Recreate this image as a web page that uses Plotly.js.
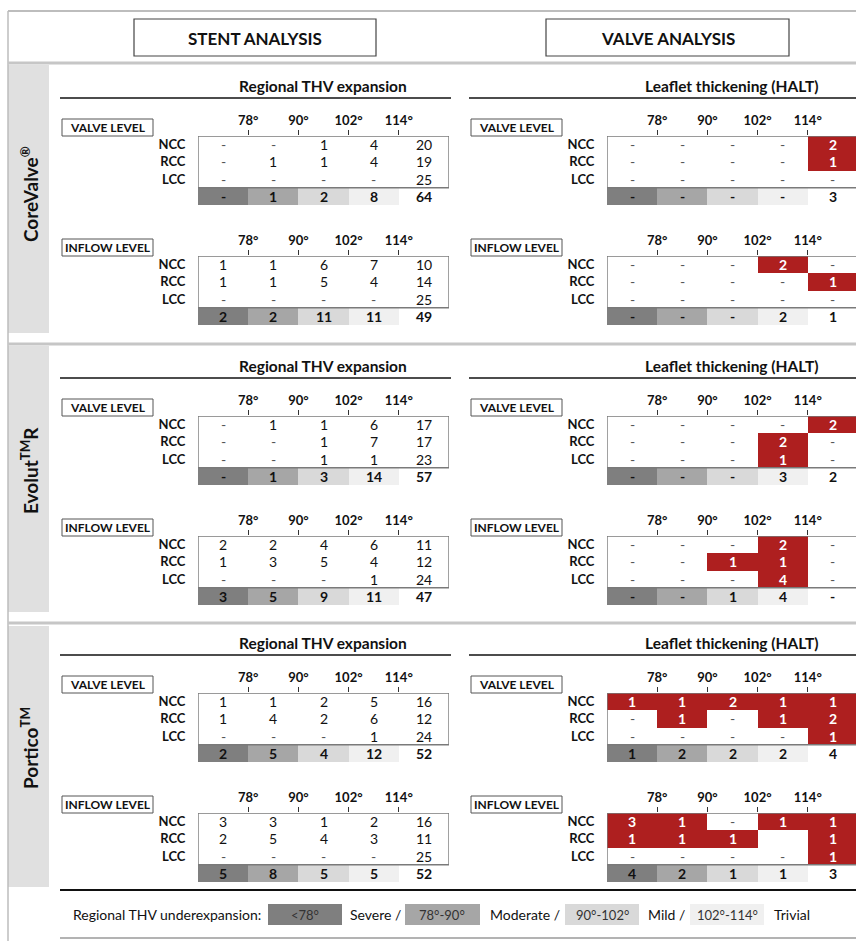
<!DOCTYPE html>
<html><head><meta charset="utf-8">
<script src="https://cdn.plot.ly/plotly-3.0.1.min.js"></script>
<style>html,body{margin:0;padding:0;background:#fff;}#chart{width:856px;height:941px;}</style>
</head><body><div id="chart"></div>
<script>
// ---------------- data ----------------
const valveNames = ['CoreValve<sup>®</sup>', 'Evolut<sup>TM</sup>R', 'Portico<sup>TM</sup>'];
const analysisTitles = ['STENT ANALYSIS', 'VALVE ANALYSIS'];
const panelTitles = ['Regional THV expansion', 'Leaflet thickening (HALT)'];
const levels = ['VALVE LEVEL', 'INFLOW LEVEL'];
const cusps = ['NCC', 'RCC', 'LCC'];
const angleTicks = ['78°', '90°', '102°', '114°'];
const expansionClasses = ['<78°', '78°-90°', '90°-102°', '102°-114°'];
const severityNames = ['Severe /', 'Moderate /', 'Mild /', 'Trivial'];
const legendTitle = 'Regional THV underexpansion:';

// rows: NCC, RCC, LCC, total ; columns: <78, 78-90, 90-102, 102-114, >114
// 0 is drawn as '-', null as an empty cell
const coreValveStentValve  = [[0,0,1,4,20],[0,1,1,4,19],[0,0,0,0,25],[0,1,2,8,64]];
const coreValveStentInflow = [[1,1,6,7,10],[1,1,5,4,14],[0,0,0,0,25],[2,2,11,11,49]];
const coreValveHaltValve   = [[0,0,0,0,2],[0,0,0,0,1],[0,0,0,0,0],[0,0,0,0,3]];
const coreValveHaltInflow  = [[0,0,0,2,0],[0,0,0,0,1],[0,0,0,0,0],[0,0,0,2,1]];

const evolutStentValve  = [[0,1,1,6,17],[0,0,1,7,17],[0,0,1,1,23],[0,1,3,14,57]];
const evolutStentInflow = [[2,2,4,6,11],[1,3,5,4,12],[0,0,0,1,24],[3,5,9,11,47]];
const evolutHaltValve   = [[0,0,0,0,2],[0,0,0,2,0],[0,0,0,1,0],[0,0,0,3,2]];
const evolutHaltInflow  = [[0,0,0,2,0],[0,0,1,1,0],[0,0,0,4,0],[0,0,1,4,0]];

const porticoStentValve  = [[1,1,2,5,16],[1,4,2,6,12],[0,0,0,1,24],[2,5,4,12,52]];
const porticoStentInflow = [[3,3,1,2,16],[2,5,4,3,11],[0,0,0,0,25],[5,8,5,5,52]];
const porticoHaltValve   = [[1,1,2,1,1],[0,1,0,1,2],[0,0,0,0,1],[1,2,2,2,4]];
const porticoHaltInflow  = [[3,1,0,1,1],[1,1,1,null,1],[0,0,0,0,1],[4,2,1,1,3]];

const tables = [
  {valve:0, analysis:0, level:0, data:coreValveStentValve},
  {valve:0, analysis:0, level:1, data:coreValveStentInflow},
  {valve:0, analysis:1, level:0, data:coreValveHaltValve},
  {valve:0, analysis:1, level:1, data:coreValveHaltInflow},
  {valve:1, analysis:0, level:0, data:evolutStentValve},
  {valve:1, analysis:0, level:1, data:evolutStentInflow},
  {valve:1, analysis:1, level:0, data:evolutHaltValve},
  {valve:1, analysis:1, level:1, data:evolutHaltInflow},
  {valve:2, analysis:0, level:0, data:porticoStentValve},
  {valve:2, analysis:0, level:1, data:porticoStentInflow},
  {valve:2, analysis:1, level:0, data:porticoHaltValve},
  {valve:2, analysis:1, level:1, data:porticoHaltInflow}
];

// ---------------- style / layout ----------------
const W = 856, H = 941;
const fx = v => v / W, fy = v => 1 - v / H;
const FONT = 'Lato, Carlito, "Open Sans", sans-serif';
const RED = '#ae1f1f';
const summaryColors = ['#7f7f7f', '#a6a6a6', '#d9d9d9', '#f0f0f0', '#ffffff'];
const colorscale = [[0,'#ffffff'],[1/6,RED],[2/6,summaryColors[0]],[3/6,summaryColors[1]],
                    [4/6,summaryColors[2]],[5/6,summaryColors[3]],[1,summaryColors[4]]];
const sectionShift = [0, 280, 557];
const brandCenters = [194, 470, 748];
const bands = [[65,333],[346,612],[626,887]];
const colW = 50.2;

const traces = [], annotations = [], shapes = [];
const layout = {
  width: W, height: H, autosize: false,
  margin: {l:0, r:0, t:0, b:0, pad:0},
  paper_bgcolor: '#ffffff', plot_bgcolor: 'rgba(0,0,0,0)',
  font: {family: FONT, color: '#111'},
  showlegend: false
};

function hline(y, x0, x1, color, width) {
  shapes.push({type:'line', xref:'paper', yref:'paper', x0:fx(x0), x1:fx(x1), y0:fy(y), y1:fy(y),
               line:{color:color, width:width}});
}
function rectP(x0, y0, x1, y1, fill, lineColor, lw) {
  shapes.push({type:'rect', xref:'paper', yref:'paper', x0:fx(x0), x1:fx(x1), y0:fy(y1), y1:fy(y0),
               fillcolor: fill, line: {color: lineColor || 'rgba(0,0,0,0)', width: lw || 0}, layer:'below'});
}
function textP(x, y, text, size, weight, opts) {
  annotations.push(Object.assign({xref:'paper', yref:'paper', x:fx(x), y:fy(y), text:text,
    showarrow:false, xanchor:'center', yanchor:'middle',
    font:{family:FONT, size:size, color:'#111', weight:weight}}, opts || {}));
}

// frame
hline(11, 8, 856, '#bdbdbd', 2);
shapes.push({type:'line', xref:'paper', yref:'paper', x0:fx(8), x1:fx(8), y0:fy(11), y1:0,
             line:{color:'#bdbdbd', width:1.5}});
[63, 344, 623].forEach(y => hline(y, 8, 856, '#c6c6c6', 3));
bands.forEach(b => rectP(8, b[0], 49, b[1], '#e0e0e0'));

// analysis headers
const headerBoxes = [[134, 376], [546, 789]];
analysisTitles.forEach((t, a) => {
  const b = headerBoxes[a];
  rectP(b[0], 19, b[1], 56, 'rgba(0,0,0,0)', '#444', 1.2);
  textP((b[0] + b[1]) / 2, 38, t, 17, 700);
});

// brand names
valveNames.forEach((n, v) => {
  textP(29, brandCenters[v], n, 19, 700, {textangle:-90});
});

// panel titles and rules
const titleCenters = [323, 732];
const ruleSpans = [[60, 451], [469, 856]];
sectionShift.forEach((s, v) => {
  panelTitles.forEach((t, a) => {
    textP(titleCenters[a], 86 + s, t, 15.5, 700);
    hline(98 + s, ruleSpans[a][0], ruleSpans[a][1], '#111', 1.5);
  });
});

// tables
const levelBoxX = [[62, 153], [471, 562]];
tables.forEach((t, i) => {
  const id = i === 0 ? '' : String(i + 1);
  const xr = 'x' + id, yr = 'y' + id;
  const top = 136 + sectionShift[t.valve] + t.level * 120;
  const bottom = top + 69;
  const left = t.analysis === 0 ? 198 : 607;
  const right = t.analysis === 0 ? 449 : 856;

  const z = t.data.map((row, r) => row.map((v, c) =>
    r === 3 ? c + 2 : (t.analysis === 1 && v > 0 ? 1 : 0)));
  traces.push({type:'heatmap', x:[0,1,2,3,4], y:[0,1,2,3], z:z, zmin:0, zmax:6,
    colorscale:colorscale, showscale:false, hoverinfo:'skip', xaxis:xr, yaxis:yr, xgap:0, ygap:0});

  layout['xaxis' + id] = {
    domain:[fx(left), fx(right)], range:[-0.5, -0.5 + (right - left) / colW], anchor:yr,
    side:'top', tickmode:'array', tickvals:[0.5,1.5,2.5,3.5], ticktext:angleTicks,
    ticks:'outside', ticklen:5, tickwidth:1, tickcolor:'#333',
    tickfont:{family:FONT, size:13, color:'#111', weight:700},
    showgrid:false, zeroline:false, showline:false, fixedrange:true
  };
  layout['yaxis' + id] = {
    domain:[fy(bottom), fy(top)], range:[3.5, -0.5], anchor:xr,
    tickmode:'array', tickvals:[0,1,2], ticktext:cusps,
    ticks:'outside', ticklen:9, tickcolor:'rgba(0,0,0,0)',
    tickfont:{family:FONT, size:13, color:'#111', weight:700},
    showgrid:false, zeroline:false, showline:false, fixedrange:true
  };

  // border around cusp rows
  shapes.push({type:'rect', xref:xr, yref:yr, x0:-0.5, x1:4.5, y0:-0.5, y1:2.5,
               line:{color:'#7a7a7a', width:1.4}, layer:'above'});

  // cell texts
  t.data.forEach((row, r) => row.forEach((v, c) => {
    if (v === null) return;
    const isRed = t.analysis === 1 && r < 3 && v > 0;
    const txt = v === 0 ? '-' : String(v);
    let color = '#111';
    if (isRed) color = '#ffffff';
    else if (v === 0 && r < 3) color = '#555';
    annotations.push({xref:xr, yref:yr, x:c, y:r, text:txt, showarrow:false,
      xanchor:'center', yanchor:'middle',
      font:{family:FONT, size:14, color:color, weight:(r === 3 || isRed) ? 700 : 400}});
  }));

  // level label box
  const lb = levelBoxX[t.analysis];
  rectP(lb[0], top - 17, lb[1], top, 'rgba(0,0,0,0)', '#555', 1);
  textP((lb[0] + lb[1]) / 2, top - 8.5, levels[t.level], 12, 700);
});

// legend
hline(890, 60, 856, '#111', 2);
hline(938, 60, 856, '#9a9a9a', 1.5);
textP(263, 914, legendTitle, 14, 400, {xanchor:'right'});
const legBoxes = [[268, 342], [405, 480], [565, 639], [690, 764]];
const legNameX = [348, 488, 646, 772];
expansionClasses.forEach((cl, k) => {
  const b = legBoxes[k];
  rectP(b[0], 904, b[1], 925, summaryColors[k]);
  textP((b[0] + b[1]) / 2, 914.5, cl, 13, 400, {font:{family:FONT, size:13, color:'#333'}});
  textP(legNameX[k], 914, severityNames[k], 14, 400, {xanchor:'left'});
});

layout.shapes = shapes;
layout.annotations = annotations;

Plotly.newPlot('chart', traces, layout, {staticPlot:true, displayModeBar:false});
</script>
</body></html>
